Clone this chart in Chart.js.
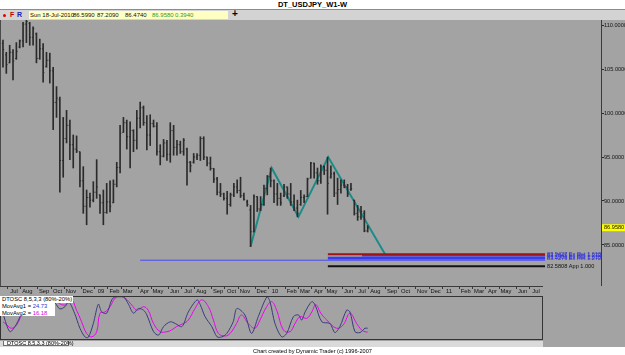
<!DOCTYPE html>
<html>
<head>
<meta charset="utf-8">
<script src="https://cdn.jsdelivr.net/npm/chart.js@4.4.0/dist/chart.umd.min.js"></script>
<style>
  body { margin: 0; width: 625px; height: 355px; background: #a3a3a3; position: relative; overflow: hidden;
         font-family: "Liberation Sans", Arial, sans-serif; }
  .abs { position: absolute; white-space: nowrap; }
  #title { left: 0; top: 0; width: 625px; height: 10px; background: #fff; border-bottom: 1px solid #8c8c8c;
           box-sizing: border-box; text-align: center; font-weight: bold; font-size: 7.5px; line-height: 10px; }
  #info { left: 0; top: 10px; width: 625px; height: 10px; background: #d3d3d3; }
  #quote { left: 29px; top: 11px; width: 199px; height: 8px; background: #ffffc4; }
  .q { top: 11px; font-size: 6px; line-height: 8px; color: #111; }
  #main { position: absolute; left: 0; top: 20px; }
  #osc { position: absolute; left: 0; top: 284px; }
  #oscLegend1 { left: 0; top: 296px; width: 73px; height: 7px; background: #fff; font-size: 5.8px; line-height: 7px; padding-left: 2px; box-sizing: border-box; }
  #oscLegend2 { left: 0; top: 303px; width: 55px; height: 13px; background: #fff; font-size: 5.8px; line-height: 6.5px; padding-left: 2px; box-sizing: border-box; }
  #tabRow { left: 0; top: 341px; width: 543px; height: 6px; background: #dadada; }
  #tab { left: 3px; top: 341px; width: 66px; height: 5px; background: #f6f6f6; border: 1px solid #707070; border-top: none;
         font-size: 5.5px; line-height: 5px; padding-left: 3px; box-sizing: border-box; }
  #footer { left: 0; top: 347px; width: 625px; height: 8px; background: #fff; text-align: center; font-size: 5.6px; line-height: 8px; }
</style>
</head>
<body>
<div id="title" class="abs">DT_USDJPY_W1-W</div>
<div id="info" class="abs"></div>
<div class="abs" style="left:3px;top:14px;width:3px;height:3px;border-radius:2px;background:#e00000"></div>
<div class="abs" style="left:10px;top:11px;font-size:7px;line-height:8px;font-weight:bold;color:#c00000">F</div>
<div class="abs" style="left:17px;top:11px;font-size:7px;line-height:8px;font-weight:bold;color:#2020b0">R</div>
<div id="quote" class="abs"></div>
<div class="abs q" style="left:30px">Sun 18-Jul-2010</div>
<div class="abs q" style="left:73px">86.5990</div>
<div class="abs q" style="left:97px">87.2090</div>
<div class="abs q" style="left:125px">86.4740</div>
<div class="abs q" style="left:152px;color:#2f9a2f">86.9580</div>
<div class="abs q" style="left:175px;color:#2f9a2f">0.3940</div>
<div class="abs" style="left:232px;top:9px;font-size:10px;line-height:10px;font-weight:bold">+</div>

<canvas id="main" width="625" height="266"></canvas>
<div class="abs" style="left:0;top:286px;width:543px;height:1px;background:#3c3c3c"></div>
<canvas id="osc" width="544" height="56"></canvas>
<div id="oscLegend1" class="abs">DTOSC 8,5,3,3 (80%-20%)</div>
<div id="oscLegend2" class="abs">MovAvg1 = <span style="color:#3535c8">24.73</span><br>MovAvg2 = <span style="color:#e000e0">16.18</span></div>
<div id="tabRow" class="abs"></div>
<div id="tab" class="abs">DTOSC 8,5,3,3 (80%-20%)</div>
<div id="footer" class="abs">Chart created by Dynamic Trader (c) 1996-2007</div>

<script>
// weeks are counted from Sun 4-Jan-2009; first bar is the week of 15-Jun-2008
var firstWeek = -29;

var opens = [107.9, 106.6, 105.7, 106.9, 106.2, 107.5, 108.2, 110.1, 110.2, 108.6,
  109.0, 106.2, 107.3, 105.3, 106.0, 104.8, 101.2, 101.5, 94.6, 97.1,
  98.6, 96.4, 95.9, 95.6, 92.3, 89.4, 90.4, 90.1, 91.0, 90.7,
  89.8, 88.7, 89.9, 89.8, 91.9, 93.8, 97.8, 98.9, 97.3, 98.0,
  96.9, 99.4, 100.6, 98.9, 97.5, 98.8, 98.5, 95.6, 95.1, 96.6,
  95.3, 98.0, 96.1, 96.4, 95.6, 95.9, 94.4, 94.4, 95.0, 95.2,
  97.1, 95.0, 94.3, 93.7, 92.5, 91.0, 90.8, 90.3, 89.6, 90.7,
  91.6, 91.2, 90.6, 89.9, 89.0, 86.5, 90.5, 89.1, 89.6, 91.4,
  92.8, 92.3, 90.8, 90.3, 90.6, 91.6, 90.8, 89.9, 89.2, 89.6,
  90.4, 90.5, 92.6, 94.3, 93.2, 92.3, 93.9, 93.5, 92.7, 93.1,
  90.9, 91.3, 91.8, 91.6, 91.3, 90.1, 88.6, 88.2, 88.6, 86.599];
var highs = [108.3, 106.9, 107.7, 107.2, 108.0, 108.3, 110.3, 110.6, 110.3, 109.8,
  109.1, 108.4, 107.9, 106.9, 106.8, 105.2, 103.0, 101.8, 99.5, 100.3,
  99.2, 97.5, 97.4, 95.6, 93.9, 91.25, 90.9, 92.2, 94.7, 90.7,
  91.25, 92.0, 92.3, 92.4, 94.4, 98.6, 99.5, 99.2, 99.0, 98.1,
  100.3, 101.25, 100.8, 99.7, 99.8, 99.2, 98.9, 96.4, 97.0, 96.9,
  98.9, 98.6, 96.9, 96.8, 97.1, 96.0, 94.5, 95.4, 95.4, 97.3,
  97.3, 95.0, 95.0, 93.7, 92.7, 92.0, 90.9, 91.1, 90.9, 92.0,
  92.4, 92.7, 90.9, 90.1, 89.5, 90.7, 90.5, 90.5, 91.8, 92.9,
  93.76, 92.4, 92.0, 90.9, 91.9, 91.6, 92.0, 90.7, 90.1, 91.2,
  90.7, 92.6, 94.4, 94.3, 93.75, 94.1, 94.0, 94.99, 94.0, 93.3,
  92.6, 92.4, 92.4, 91.9, 92.0, 90.1, 89.5, 89.4, 88.9, 87.209];
var lows = [105.2, 104.5, 105.7, 103.75, 106.1, 107.4, 107.5, 108.0, 107.7, 107.7,
  105.7, 106.1, 103.5, 105.2, 103.4, 98.1, 99.5, 91.0, 92.7, 96.6,
  94.7, 93.75, 95.5, 91.6, 88.6, 87.3, 89.3, 89.9, 90.3, 88.6,
  87.3, 88.6, 88.75, 89.8, 91.6, 93.2, 97.8, 95.9, 93.75, 95.6,
  95.9, 98.3, 98.6, 95.8, 96.3, 98.4, 95.2, 94.1, 95.0, 94.6,
  94.4, 95.2, 95.2, 95.4, 95.2, 91.8, 93.3, 94.3, 94.7, 94.6,
  94.7, 94.0, 93.5, 92.1, 90.7, 90.5, 90.1, 88.5, 89.4, 90.5,
  90.9, 90.4, 90.1, 89.4, 84.82, 86.5, 88.8, 88.9, 89.5, 90.7,
  91.6, 89.8, 89.5, 89.5, 90.5, 90.3, 89.5, 88.9, 88.2, 89.5,
  89.8, 90.5, 92.6, 92.6, 91.9, 92.0, 93.0, 88.5, 92.6, 90.5,
  89.6, 90.9, 91.5, 90.5, 91.2, 88.4, 87.8, 87.9, 86.5, 86.474];
var closes = [107.2, 105.5, 106.9, 105.9, 107.0, 108.2, 110.1, 110.4, 108.6, 109.6,
  106.2, 107.3, 104.6, 106.0, 104.8, 101.2, 101.7, 94.6, 97.1, 98.6,
  96.4, 95.9, 95.7, 92.3, 89.4, 90.4, 90.1, 91.0, 91.6, 89.8,
  88.7, 89.9, 89.4, 91.9, 93.8, 97.7, 98.9, 97.3, 98.0, 96.9,
  99.4, 100.6, 98.9, 97.5, 98.8, 98.5, 95.6, 95.1, 96.6, 95.3,
  98.0, 96.1, 96.4, 95.6, 96.9, 94.4, 94.0, 95.0, 95.2, 97.1,
  95.0, 94.3, 93.7, 92.5, 91.0, 90.8, 90.3, 89.6, 90.7, 91.6,
  91.2, 90.6, 90.2, 89.6, 86.5, 90.5, 89.1, 89.6, 91.4, 92.8,
  92.3, 90.8, 90.3, 89.8, 91.6, 90.8, 89.9, 89.2, 88.6, 90.4,
  90.5, 92.5, 94.3, 93.2, 92.3, 93.9, 93.5, 92.0, 93.1, 90.9,
  91.3, 91.8, 91.6, 90.8, 91.4, 88.6, 88.2, 88.8, 86.6, 86.958];

// teal swing pattern
var zigWeeks = [45, 51.3, 59.3, 68.2, 85.2];
var zigPrices = [84.82, 93.76, 88.2, 94.99, 83.94];

// projected price levels
var levelPrices = [83.9427, 83.7645, 83.5909, 83.4276, 83.27, 82.5808];
var levelFrom = [68.1, 78.3, 68.1, 68.1, 12.0, 68.1];
var levelTo = [133.0, 133.0, 133.0, 133.0, 133.0, 133.0];
var levelText = ["83.9427 Ex Ret 1.618", "83.7645 Ex Ret 1.272", "83.5909 Ex Ret 1.618", "83.4276 Ex Ret 1.272", "", "82.5808 App 1.000"];

var priceTicks = [85, 90, 95, 100, 105, 110];
var lastPrice = 86.958;

var monthWeeks = [-26, -22, -17, -13, -9, -4, 0, 4, 8, 13, 17, 22, 26, 30, 35, 39, 43, 48,
  52, 57, 61, 65, 69, 74, 78, 82, 87, 91, 96, 100, 104, 109, 113, 117, 121, 126, 130];
var monthLabels = ["Jul", "Aug", "Sep", "Oct", "Nov", "Dec", "09", "Feb", "Mar", "Apr", "May", "Jun",
  "Jul", "Aug", "Sep", "Oct", "Nov", "Dec", "10", "Feb", "Mar", "Apr", "May", "Jun",
  "Jul", "Aug", "Sep", "Oct", "Nov", "Dec", "11", "Feb", "Mar", "Apr", "May", "Jun", "Jul"];

// DTOSC lines (0-100)
var oscWeeks1 = [-29, -28.4, -26.9, -25.4, -23.9, -22.5, -21, -19.5, -18, -16.5, -15, -13.5, -12, -10.5, -9.4,
  -7.6, -6, -4.5, -3.5, -2, -0.5, 0.5, 2, 3.5, 4.5, 7, 8.5, 10, 11.5, 13, 14, 16, 17.5, 19, 21, 22.5, 24.5,
  26.4, 29, 30, 31.4, 33.4, 35, 36.4, 37.9, 39.8, 40.9, 43.3, 45.3, 47.3, 49.9, 50.8, 52.3, 54.3, 55.8, 57.8,
  59.3, 60.3, 61.3, 63.3, 64.3, 66.3, 68.7, 70.2, 71.7, 73.7, 74.7, 76.2, 77.7, 79.2, 80];
var osc1 = [62, 44, 17, 29, 52, 78, 95, 90, 80, 88, 96, 85, 70, 75, 87,
  60, 25, 5, 4, 36, 81, 63, 60, 91, 98, 98, 81, 60, 71, 67, 56, 17, 9, 29, 40, 36, 29,
  63, 91, 79, 52, 29, 5, 5, 13, 40, 71, 56, 13, 52, 98, 87, 36, 5, 13, 52,
  56, 44, 63, 87, 79, 40, 36, 15, 29, 67, 63, 17, 15, 25, 25];
var oscWeeks2 = [-29, -27.9, -26.4, -24.9, -23.4, -21.5, -19.5, -17.5, -15.5, -13.5, -11.5, -10, -8.5, -7,
  -5.5, -4, -2.5, -1, 0, 1.5, 3, 4.5, 6, 7.5, 9.5, 11, 13, 14.4, 16, 18, 20, 21.4, 22.9, 24.9, 26.4, 28.4,
  30.4, 32.4, 33.9, 35.4, 37.4, 38.9, 40.8, 42.3, 44.3, 46.3, 47.8, 49.8, 51.3, 52.8, 54.8, 56.8, 58.3,
  59.8, 61.8, 63.3, 64.5, 66, 67.8, 70.7, 72.7, 74.7, 76.7, 78.2, 79.2, 80];
var osc2 = [40, 33, 25, 33, 56, 75, 88, 85, 86, 88, 80, 80, 91, 67,
  40, 13, 5, 17, 60, 63, 75, 95, 98, 95, 79, 67, 75, 67, 36, 17, 17, 21, 29, 36, 44, 71,
  91, 75, 44, 13, 7, 13, 36, 56, 36, 25, 44, 75, 87, 67, 21, 17, 36,
  52, 48, 63, 80, 60, 44, 25, 33, 60, 36, 21, 17, 16];

Chart.defaults.font.family = '"Liberation Sans", Arial, sans-serif';
Chart.defaults.animation = false;

function toPoints(xs, ys) {
  return xs.map(function (x, i) { return { x: x, y: ys[i] }; });
}

var levelColors = ['#9c1414', '#3b3bf0', '#3b3bf0', '#3b3bf0', '#4a4af5', '#111111'];
var levelWidths = [2, 1.5, 1.5, 1.5, 1, 2];
var levelTextColors = ['#3030c0', '#3030e8', '#3030e8', '#3030e8', '#3030e8', '#111111'];

var datasets = [{
  type: 'bar',
  data: opens.map(function (o, i) { return { x: firstWeek + i, y: [lows[i], highs[i]] }; }),
  backgroundColor: '#2b2b2b',
  borderWidth: 0,
  barThickness: 1,
  grouped: false
}];
levelPrices.forEach(function (p, i) {
  datasets.push({
    type: 'line',
    data: [{ x: levelFrom[i], y: p }, { x: levelTo[i], y: p }],
    borderColor: levelColors[i],
    borderWidth: levelWidths[i],
    pointRadius: 0
  });
});
datasets.push({
  type: 'line',
  data: toPoints(zigWeeks, zigPrices),
  borderColor: '#1b8c88',
  borderWidth: 2,
  pointRadius: 0,
  tension: 0
});

var mainDecor = {
  id: 'mainDecor',
  afterDatasetsDraw: function (chart) {
    var ctx = chart.ctx, xs = chart.scales.x, ys = chart.scales.y;
    ctx.save();
    ctx.fillStyle = '#2b2b2b';
    for (var i = 0; i < opens.length; i++) {
      var px = xs.getPixelForValue(firstWeek + i);
      ctx.fillRect(px - 1.2, ys.getPixelForValue(opens[i]) - 0.5, 1.2, 1);
      ctx.fillRect(px, ys.getPixelForValue(closes[i]) - 0.5, 1.2, 1);
    }
    ctx.font = '5.6px "Liberation Sans", Arial';
    ctx.textBaseline = 'middle';
    for (var j = 0; j < levelPrices.length; j++) {
      if (!levelText[j]) continue;
      ctx.fillStyle = levelTextColors[j];
      ctx.fillText(levelText[j], xs.getPixelForValue(levelTo[j]) + 2, ys.getPixelForValue(levelPrices[j]));
    }
    ctx.restore();
  },
  afterDraw: function (chart) {
    var ctx = chart.ctx, ys = chart.scales.y, a = chart.chartArea;
    ctx.save();
    ctx.strokeStyle = '#4a4a4a';
    ctx.lineWidth = 1;
    ctx.beginPath();
    ctx.moveTo(a.left + 0.5, a.top);
    ctx.lineTo(a.left + 0.5, a.bottom);
    ctx.stroke();
    ctx.font = '5.6px "Liberation Sans", Arial';
    ctx.textBaseline = 'middle';
    ctx.fillStyle = '#151515';
    priceTicks.forEach(function (v) {
      ctx.fillText(v.toFixed(4), a.right + 3, ys.getPixelForValue(v));
    });
    var yp = ys.getPixelForValue(lastPrice);
    ctx.fillStyle = '#ffff00';
    ctx.fillRect(a.right + 1, yp - 3.5, 24, 7);
    ctx.fillStyle = '#111';
    ctx.fillText(lastPrice.toFixed(4), a.right + 3, yp);
    ctx.restore();
  }
};

new Chart(document.getElementById('main'), {
  type: 'bar',
  data: { datasets: datasets },
  options: {
    responsive: false,
    devicePixelRatio: 1,
    layout: { padding: 0 },
    plugins: { legend: { display: false }, tooltip: { enabled: false } },
    scales: {
      x: { type: 'linear', min: -29.89, max: 149.73, offset: false, display: false },
      y: {
        position: 'right',
        min: 80.34,
        max: 110.57,
        afterBuildTicks: function (s) { s.ticks = priceTicks.map(function (v) { return { value: v }; }); },
        afterFit: function (s) { s.width = 24; },
        ticks: { display: false },
        grid: { drawOnChartArea: false, tickLength: 3, color: '#2a2a2a' },
        border: { color: '#3a3a3a', width: 1 }
      }
    }
  },
  plugins: [mainDecor]
});

// frame, month labels and month ticks of the oscillator window
var oscFrame = {
  id: 'oscFrame',
  afterDraw: function (chart) {
    var ctx = chart.ctx, a = chart.chartArea, xs = chart.scales.x;
    ctx.save();
    ctx.strokeStyle = '#333';
    ctx.lineWidth = 1;
    ctx.strokeRect(a.left + 0.5, a.top + 0.5, a.right - a.left - 1, a.bottom - a.top - 1);
    ctx.font = '5.8px "Liberation Sans", Arial';
    ctx.textAlign = 'center';
    ctx.textBaseline = 'middle';
    ctx.fillStyle = '#111';
    ctx.strokeStyle = '#3a3a3a';
    monthWeeks.forEach(function (w, i) {
      var px = xs.getPixelForValue(w);
      ctx.fillText(monthLabels[i], px + 1, a.top - 5);
      var tx = Math.round(px - 6) + 0.5;
      ctx.beginPath();
      ctx.moveTo(tx, a.top - 10);
      ctx.lineTo(tx, a.top - 7);
      ctx.stroke();
    });
    ctx.restore();
  }
};

new Chart(document.getElementById('osc'), {
  type: 'line',
  data: {
    datasets: [{
      data: toPoints(oscWeeks1, osc1),
      borderColor: '#3b3b7e',
      borderWidth: 1,
      pointRadius: 0,
      tension: 0.3
    }, {
      data: toPoints(oscWeeks2, osc2),
      borderColor: '#ee00ee',
      borderWidth: 1,
      pointRadius: 0,
      tension: 0.4
    }]
  },
  options: {
    responsive: false,
    devicePixelRatio: 1,
    layout: { padding: { top: 12, right: 1 } },
    plugins: { legend: { display: false }, tooltip: { enabled: false } },
    scales: {
      x: { type: 'linear', min: -29.89, max: 132.4, display: false },
      y: { min: -2.3, max: 100, display: false }
    }
  },
  plugins: [oscFrame]
});
</script>
</body>
</html>
